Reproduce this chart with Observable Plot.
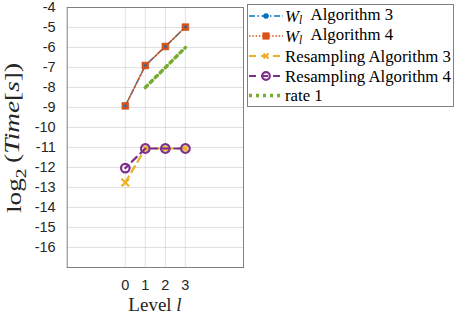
<!DOCTYPE html>
<html><head><meta charset="utf-8">
<script src="https://cdn.jsdelivr.net/npm/d3@7"></script>
<script src="https://cdn.jsdelivr.net/npm/@observablehq/plot@0.6"></script>
<style>body{margin:0;background:#fff} #chart{position:relative;width:457px;height:315px}</style>
</head><body><div id="chart"></div>
<script>
// ---- data ----
const levels = [0, 1, 2, 3];
const wAlg3 = [-8.92, -6.9, -5.95, -4.98];
const wAlg4 = [-8.92, -6.9, -5.95, -4.98];
const resAlg3 = [-12.75, -11.05, -11.05, -11.05];
const resAlg4 = [-12.03, -11.05, -11.05, -11.05];
const rateLevels = [1, 3];
const rateValues = [-8, -6];
const yTicks = [-16, -15, -14, -13, -12, -11, -10, -9, -8, -7, -6, -5, -4];
const xTicks = [0, 1, 2, 3];
const legendNames = ["Algorithm 3", "Algorithm 4", "Resampling Algorithm 3", "Resampling Algorithm 4", "rate 1"];

// ---- styles ----
const C = {blue:"#0072BD", orange:"#D95319", yellow:"#EDB120", purple:"#7E2F8E", green:"#77AC30"};
const S = [
  {stroke:C.blue, width:1.5, dash:"6,2.5,1.5,2.5", marker:"dot"},
  {stroke:C.orange, width:1.5, dash:"1.5,1.8", marker:"square"},
  {stroke:C.yellow, width:2.2, dash:"7,5", marker:"times"},
  {stroke:C.purple, width:2.2, dash:"7,5", marker:"ring"},
  {stroke:C.green, width:3.5, dash:"3,4", marker:null}
];

const mk = (xs, ys) => xs.map((x, i) => ({x, y: ys[i]}));
const dW3 = mk(levels, wAlg3), dW4 = mk(levels, wAlg4);
const dR3 = mk(levels, resAlg3), dR4 = mk(levels, resAlg4);
const dRate = mk(rateLevels, rateValues);

const plot = Plot.plot({
  width: 457, height: 315,
  marginLeft: 66.7, marginRight: 214, marginTop: 7, marginBottom: 48,
  style: {fontFamily: "Liberation Sans, Arial, sans-serif", fontSize: "14px", color: "#262626", background: "#fff"},
  x: {domain: [-2.9, 5.9]},
  y: {domain: [-17, -4]},
  marks: [
    Plot.gridY(yTicks, {stroke: "#000", strokeOpacity: 0.12}),
    Plot.gridX(xTicks, {stroke: "#000", strokeOpacity: 0.12}),
    Plot.frame({stroke: "#808080", strokeWidth: 1}),
    Plot.axisY(yTicks, {tickSize: 0, tickPadding: 11.5, tickFormat: d => String(d), label: null, fontSize: 14.5}),
    Plot.axisX(xTicks, {tickSize: 0, tickPadding: 12, tickFormat: d => String(d), label: null, fontSize: 14.5}),
    // W_l Algorithm 3
    Plot.line(dW3, {x: "x", y: "y", stroke: S[0].stroke, strokeWidth: S[0].width, strokeDasharray: S[0].dash}),
    // W_l Algorithm 4
    Plot.line(dW4, {x: "x", y: "y", stroke: S[1].stroke, strokeWidth: S[1].width, strokeDasharray: S[1].dash}),
    Plot.dot(dW4, {x: "x", y: "y", symbol: "square", r: 3.8, fill: S[1].stroke, stroke: "#c04a16", strokeWidth: 0.6}),
    Plot.dot(dW3, {x: "x", y: "y", r: 1.3, fill: S[0].stroke}),
    // Resampling Algorithm 3
    Plot.line(dR3, {x: "x", y: "y", stroke: S[2].stroke, strokeWidth: S[2].width, strokeDasharray: S[2].dash}),
    Plot.dot(dR3, {x: "x", y: "y", symbol: "times", r: 3.5, stroke: S[2].stroke, strokeWidth: 2.2}),
    // Resampling Algorithm 4
    Plot.line(dR4, {x: "x", y: "y", stroke: S[3].stroke, strokeWidth: S[3].width, strokeDasharray: S[3].dash, strokeDashoffset: 3}),
    Plot.dot(dR4, {x: "x", y: "y", r: 4.3, stroke: S[3].stroke, strokeWidth: 2.2, fill: "#fff", fillOpacity: 0}),
    // rate 1
    Plot.line(dRate, {x: "x", y: "y", stroke: S[4].stroke, strokeWidth: S[4].width, strokeDasharray: S[4].dash})
  ]
});
document.getElementById("chart").appendChild(plot);

const svg = d3.select(plot);
const serif = "Liberation Serif, Times New Roman, serif";

// y-axis label: log_2(Time[s])
const yl = svg.append("text")
  .attr("transform", "translate(21,138) rotate(-90)")
  .attr("text-anchor", "middle")
  .attr("textLength", 150).attr("lengthAdjust", "spacingAndGlyphs")
  .attr("font-family", serif).attr("font-size", 21).attr("fill", "#262626");
yl.append("tspan").text("log");
yl.append("tspan").attr("font-size", 15).attr("dy", "0.3em").text("2");
yl.append("tspan").attr("dy", "-0.3em").text("\u2009(");
yl.append("tspan").attr("font-style", "italic").text("Time");
yl.append("tspan").text("[");
yl.append("tspan").attr("font-style", "italic").text("s");
yl.append("tspan").text("])");

// x-axis label: Level l
const xl = svg.append("text")
  .attr("x", 155).attr("y", 311)
  .attr("text-anchor", "middle")
  .attr("font-family", serif).attr("font-size", 19).attr("fill", "#262626");
xl.append("tspan").text("Level ");
xl.append("tspan").attr("font-style", "italic").text("l");

// legend
const lg = svg.append("g").attr("text-anchor", "start");
lg.append("rect").attr("x", 247.5).attr("y", 4.5).attr("width", 206).attr("height", 102)
  .attr("fill", "#fff").attr("stroke", "#808080").attr("stroke-width", 1);
const rowY = [16, 36, 56, 76, 95.5];
legendNames.forEach((name, i) => {
  const y = rowY[i], s = S[i];
  lg.append("line").attr("x1", 249).attr("x2", 283).attr("y1", y).attr("y2", y)
    .attr("stroke", s.stroke).attr("stroke-width", s.width).attr("stroke-dasharray", s.dash);
  const cx = 266;
  if (s.marker === "dot") lg.append("circle").attr("cx", cx).attr("cy", y).attr("r", 2.8).attr("fill", s.stroke);
  if (s.marker === "square") lg.append("rect").attr("x", cx - 3.6).attr("y", y - 3.6).attr("width", 7.2).attr("height", 7.2).attr("fill", s.stroke);
  if (s.marker === "times") lg.append("path").attr("d", `M${cx-2.5},${y-2.5}L${cx+2.5},${y+2.5}M${cx-2.5},${y+2.5}L${cx+2.5},${y-2.5}`).attr("stroke", s.stroke).attr("stroke-width", 2.2);
  if (s.marker === "ring") lg.append("circle").attr("cx", cx).attr("cy", y).attr("r", 3.8).attr("fill", "none").attr("stroke", s.stroke).attr("stroke-width", 2.2);
  const t = lg.append("text").attr("x", 285).attr("y", y + 5.5).attr("text-anchor", "start")
    .attr("font-family", serif).attr("font-size", 16.8).attr("fill", "#000");
  if (i < 2) {
    t.append("tspan").attr("font-style", "italic").text("W");
    t.append("tspan").attr("font-style", "italic").attr("font-size", 11.5).attr("dy", "0.25em").text("l");
    t.append("tspan").attr("dy", "-0.25em").text("\u2002" + name);
  } else {
    t.text(name);
  }
});
</script>
</body></html>
